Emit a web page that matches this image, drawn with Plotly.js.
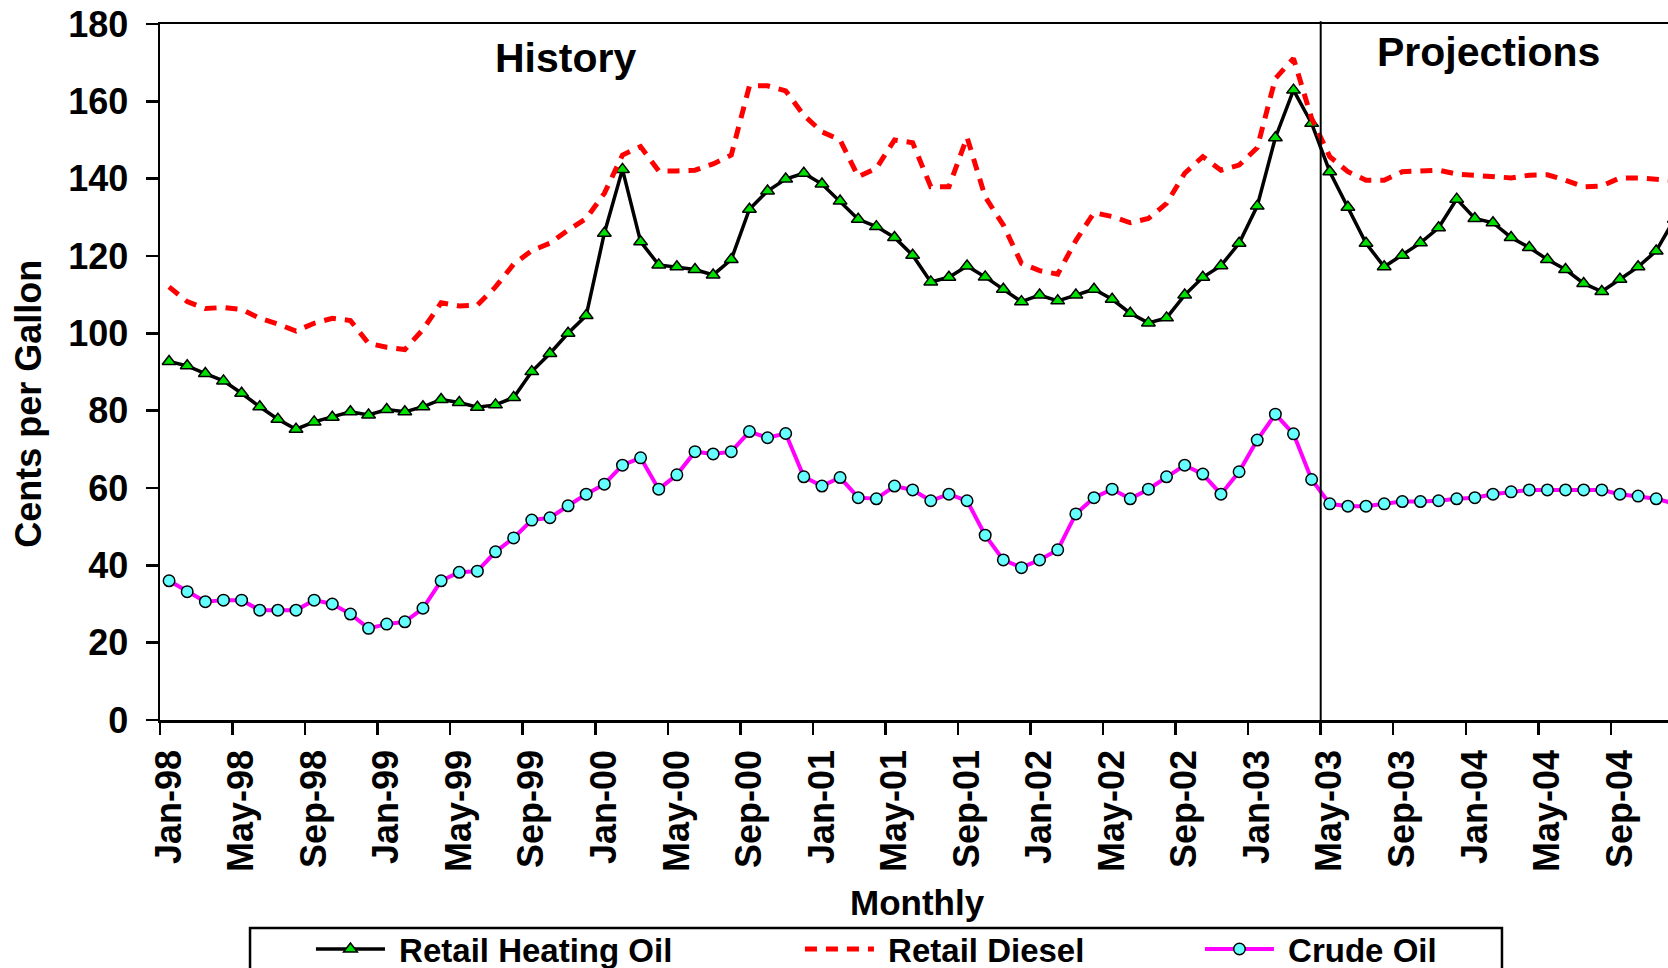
<!DOCTYPE html>
<html>
<head>
<meta charset="utf-8">
<script src="https://cdn.plot.ly/plotly-3.0.1.min.js"></script>
<style>
html, body { margin: 0; padding: 0; background: #ffffff; }
#chart { width: 1668px; height: 968px; }
</style>
</head>
<body>
<div id="chart"></div>
<script>
// Month categories (Jan-98 .. Dec-04)
const months = [
  "Jan-98","Feb-98","Mar-98","Apr-98","May-98","Jun-98","Jul-98","Aug-98","Sep-98","Oct-98","Nov-98","Dec-98",
  "Jan-99","Feb-99","Mar-99","Apr-99","May-99","Jun-99","Jul-99","Aug-99","Sep-99","Oct-99","Nov-99","Dec-99",
  "Jan-00","Feb-00","Mar-00","Apr-00","May-00","Jun-00","Jul-00","Aug-00","Sep-00","Oct-00","Nov-00","Dec-00",
  "Jan-01","Feb-01","Mar-01","Apr-01","May-01","Jun-01","Jul-01","Aug-01","Sep-01","Oct-01","Nov-01","Dec-01",
  "Jan-02","Feb-02","Mar-02","Apr-02","May-02","Jun-02","Jul-02","Aug-02","Sep-02","Oct-02","Nov-02","Dec-02",
  "Jan-03","Feb-03","Mar-03","Apr-03","May-03","Jun-03","Jul-03","Aug-03","Sep-03","Oct-03","Nov-03","Dec-03",
  "Jan-04","Feb-04","Mar-04","Apr-04","May-04","Jun-04","Jul-04","Aug-04","Sep-04","Oct-04","Nov-04","Dec-04"
];

// Retail Heating Oil (cents per gallon)
const heatingOil = [
  92.7, 91.6, 89.6, 87.7, 84.5, 81.0, 77.8, 75.2, 77.1, 78.3, 79.7, 78.9,
  80.3, 79.7, 81.0, 82.9, 82.1, 80.9, 81.5, 83.4, 90.1, 94.8, 100.0, 104.6,
  125.9, 142.4, 123.7, 117.7, 117.2, 116.5, 115.1, 119.1, 132.1, 136.8, 139.9, 141.4,
  138.6, 134.2, 129.5, 127.6, 124.8, 120.2, 113.3, 114.5, 117.4, 114.6, 111.4, 108.2,
  109.9, 108.4, 109.9, 111.4, 108.8, 105.2, 102.7, 104.0, 109.9, 114.5, 117.5, 123.3,
  132.9, 150.6, 162.9, 154.3, 141.8, 132.6, 123.3, 117.2, 120.2, 123.4, 127.3, 134.7,
  129.7, 128.6, 124.8, 122.2, 119.1, 116.5, 112.9, 110.8, 114.0, 117.2, 121.3, 129.5
];

// Retail Diesel (cents per gallon)
const retailDiesel = [
  112.0, 108.2, 106.4, 106.7, 106.2, 103.9, 102.4, 100.6, 102.6, 103.9, 103.3, 97.4,
  96.4, 95.8, 101.0, 107.9, 107.1, 107.3, 112.0, 117.9, 121.4, 123.3, 126.7, 129.7,
  136.2, 146.1, 148.3, 142.0, 142.0, 142.2, 143.8, 146.1, 164.0, 164.0, 162.7, 156.4,
  152.1, 150.0, 140.5, 142.7, 150.0, 149.3, 137.9, 137.9, 150.7, 135.3, 128.0, 118.1,
  116.2, 115.3, 124.0, 131.2, 130.2, 128.6, 129.7, 133.6, 141.4, 145.7, 142.2, 143.5,
  148.0, 165.9, 171.1, 155.6, 145.7, 141.8, 139.6, 139.6, 141.8, 142.0, 142.2, 141.2,
  140.8, 140.5, 140.2, 140.9, 141.0, 139.6, 137.9, 138.1, 140.2, 140.2, 139.8, 139.5
];

// Crude Oil (cents per gallon)
const crudeOil = [
  36.0, 33.2, 30.6, 31.0, 31.0, 28.4, 28.4, 28.4, 31.0, 30.0, 27.4, 23.7,
  24.8, 25.4, 28.9, 36.0, 38.2, 38.5, 43.5, 47.1, 51.7, 52.3, 55.4, 58.4,
  61.0, 65.9, 67.8, 59.7, 63.4, 69.4, 68.8, 69.4, 74.6, 73.0, 74.1, 62.9,
  60.5, 62.7, 57.5, 57.2, 60.5, 59.5, 56.7, 58.4, 56.7, 47.8, 41.4, 39.4,
  41.4, 44.0, 53.3, 57.5, 59.7, 57.2, 59.7, 62.9, 65.9, 63.6, 58.4, 64.2,
  72.4, 79.1, 74.0, 62.2, 55.9, 55.3, 55.3, 55.9, 56.5, 56.5, 56.7, 57.2,
  57.5, 58.4, 59.0, 59.5, 59.5, 59.5, 59.5, 59.5, 58.4, 57.9, 57.2, 56.0
];

const seriesNames = ["\u00A0Retail Heating Oil", "\u00A0Retail Diesel", "\u00A0Crude Oil"];
const projectionStart = "May-03";
const sectionLabels = ["History", "Projections"];
const yTitle = "Cents per Gallon";
const xTitle = "Monthly";

const FONT = "Liberation Sans, Arial, Helvetica, sans-serif";
const projIdx = months.indexOf(projectionStart);

const traces = [
  {
    x: months, y: heatingOil, name: seriesNames[0], type: "scatter", mode: "lines+markers",
    line: { color: "#000000", width: 3.5 },
    marker: { symbol: "triangle-up", size: 12, color: "#00E000", line: { color: "#000000", width: 1.5 } },
    legendwidth: 405
  },
  {
    x: months, y: retailDiesel, name: seriesNames[1], type: "scatter", mode: "lines",
    line: { color: "#FF0000", width: 5, dash: "12px,9px" },
    legendwidth: 316
  },
  {
    x: months, y: crudeOil, name: seriesNames[2], type: "scatter", mode: "lines+markers",
    line: { color: "#FF00FF", width: 4 },
    marker: { symbol: "circle", size: 11.5, color: "#66FFFF", line: { color: "#000000", width: 1.5 } }
  }
];

const tickFont = { family: FONT, size: 36, color: "#000000", weight: "bold" };

const layout = {
  width: 1668, height: 968,
  margin: { l: 160, r: 0, t: 24, b: 248, pad: 0, autoexpand: false },
  paper_bgcolor: "#ffffff", plot_bgcolor: "#ffffff",
  showlegend: true,
  legend: {
    orientation: "h", x: 0.1001, xanchor: "left", y: -0.2889, yanchor: "top",
    font: { family: FONT, size: 33, color: "#000000", weight: "bold" },
    itemwidth: 69, bgcolor: "rgba(0,0,0,0)", borderwidth: 0
  },
  xaxis: {
    type: "category", range: [-0.5, 82.65],
    tickmode: "linear", tick0: 0, dtick: 4, tickson: "boundaries",
    ticks: "outside", ticklen: 12, tickwidth: 2.5, tickcolor: "#000000",
    showline: true, linewidth: 2.5, linecolor: "#000000", mirror: true,
    showgrid: false, zeroline: false, tickangle: -90, tickfont: tickFont,
    ticklabelstandoff: 13, fixedrange: true
  },
  yaxis: {
    range: [0, 180], tickmode: "linear", tick0: 0, dtick: 20,
    ticks: "outside", ticklen: 12, tickwidth: 2.5, tickcolor: "#000000",
    showline: true, linewidth: 2.5, linecolor: "#000000",
    showgrid: false, zeroline: false, tickfont: tickFont,
    ticklabelstandoff: 10, fixedrange: true
  },
  shapes: [
    { type: "line", xref: "x", yref: "paper", x0: projIdx - 0.5, x1: projIdx - 0.5, y0: 0, y1: 1.004,
      line: { color: "#000000", width: 2 } },
    { type: "rect", xref: "paper", yref: "paper", x0: 0.0597, x1: 0.8899, y0: -0.2989, y1: -0.45,
      line: { color: "#000000", width: 2.5 }, fillcolor: "rgba(0,0,0,0)" }
  ],
  annotations: [
    { text: sectionLabels[0], xref: "paper", yref: "paper", x: 0.269, y: 0.951, xanchor: "center", yanchor: "middle",
      showarrow: false, font: { family: FONT, size: 41, color: "#000000", weight: "bold" } },
    { text: sectionLabels[1], xref: "paper", yref: "paper", x: 0.881, y: 0.960, xanchor: "center", yanchor: "middle",
      showarrow: false, font: { family: FONT, size: 41, color: "#000000", weight: "bold" } },
    { text: yTitle, xref: "paper", yref: "paper", x: -0.0877, y: 0.454, xanchor: "center", yanchor: "middle",
      textangle: -90, showarrow: false, font: { family: FONT, size: 36, color: "#000000", weight: "bold" } },
    { text: xTitle, xref: "paper", yref: "paper", x: 0.502, y: -0.2615, xanchor: "center", yanchor: "middle",
      showarrow: false, font: { family: FONT, size: 35, color: "#000000", weight: "bold" } }
  ]
};

Plotly.newPlot("chart", traces, layout, { displayModeBar: false, staticPlot: true });
</script>
</body>
</html>
